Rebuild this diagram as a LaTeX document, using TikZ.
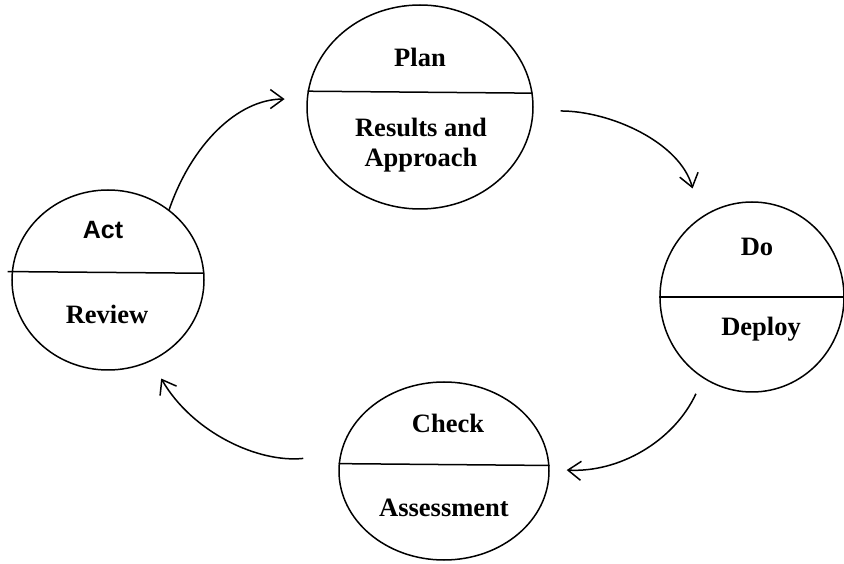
\documentclass[tikz,border=0pt]{standalone}
\usepackage{fontspec}
\setmainfont{Liberation Serif}
\newfontfamily\actfont{Liberation Sans}
\usetikzlibrary{shapes.geometric,arrows.meta}
\begin{document}
\begin{tikzpicture}[x=1pt,y=1pt,line width=1.5pt,>={Straight Barb[length=13pt,width=19pt]},
    phase/.style={ellipse,draw,inner sep=0pt},
    lbl/.style={font=\fontsize{26.5}{30}\selectfont\bfseries,anchor=base,align=center,inner sep=0pt}]
                \useasboundingbox (0,0) rectangle (844,563);
                \node[phase,minimum width=226,minimum height=204] at (420,456) (plan) {};
                \node[phase,minimum width=192,minimum height=180] at (108,283) (act) {};
                \node[phase,minimum width=184,minimum height=190] at (752,266) (do) {};
                \node[phase,minimum width=210,minimum height=178] at (444,92) (check) {};

                \draw (plan.172.4) -- (plan.7.6);
                \draw ([xshift=-4pt]act.175.8) -- (act.4.2);
                \draw (do.west) -- (do.east);
                \draw (check.176.7) -- (check.3.3);

                \node[lbl] at ([shift={(0,40)}]plan.center) (plantop) {Plan};
                \node[lbl] at ([shift={(1,-60)}]plan.center) (planbot) {Results and\\Approach};
                \node[lbl,font=\fontsize{25}{30}\actfont\bfseries] at ([shift={(-5,41)}]act.center) (acttop) {Act};
                \node[lbl] at ([shift={(-1,-44)}]act.center) (actbot) {Review};
                \node[lbl] at ([shift={(5,41)}]do.center) (dotop) {Do};
                \node[lbl] at ([shift={(9,-39)}]do.center) (dobot) {Deploy};
                \node[lbl] at ([shift={(4,39)}]check.center) (checktop) {Check};
                \node[lbl] at ([shift={(0,-45)}]check.center) (checkbot) {Assessment};

                \path[->] (act.49) edge[out=71,in=180,shorten >=22pt] (plan.176);
                \path[->] (plan.358) edge[out=0,in=105,shorten <=27pt,shorten >=30pt] (do.123);
                \path[->] (do.239) edge[out=245,in=-3,shorten <=17pt,shorten >=17pt] (check.1.5);
                \path[->] (check.171) edge[out=186,in=300,shorten <=37pt,shorten >=20pt] (act.298);
            \end{tikzpicture}
\end{document}
